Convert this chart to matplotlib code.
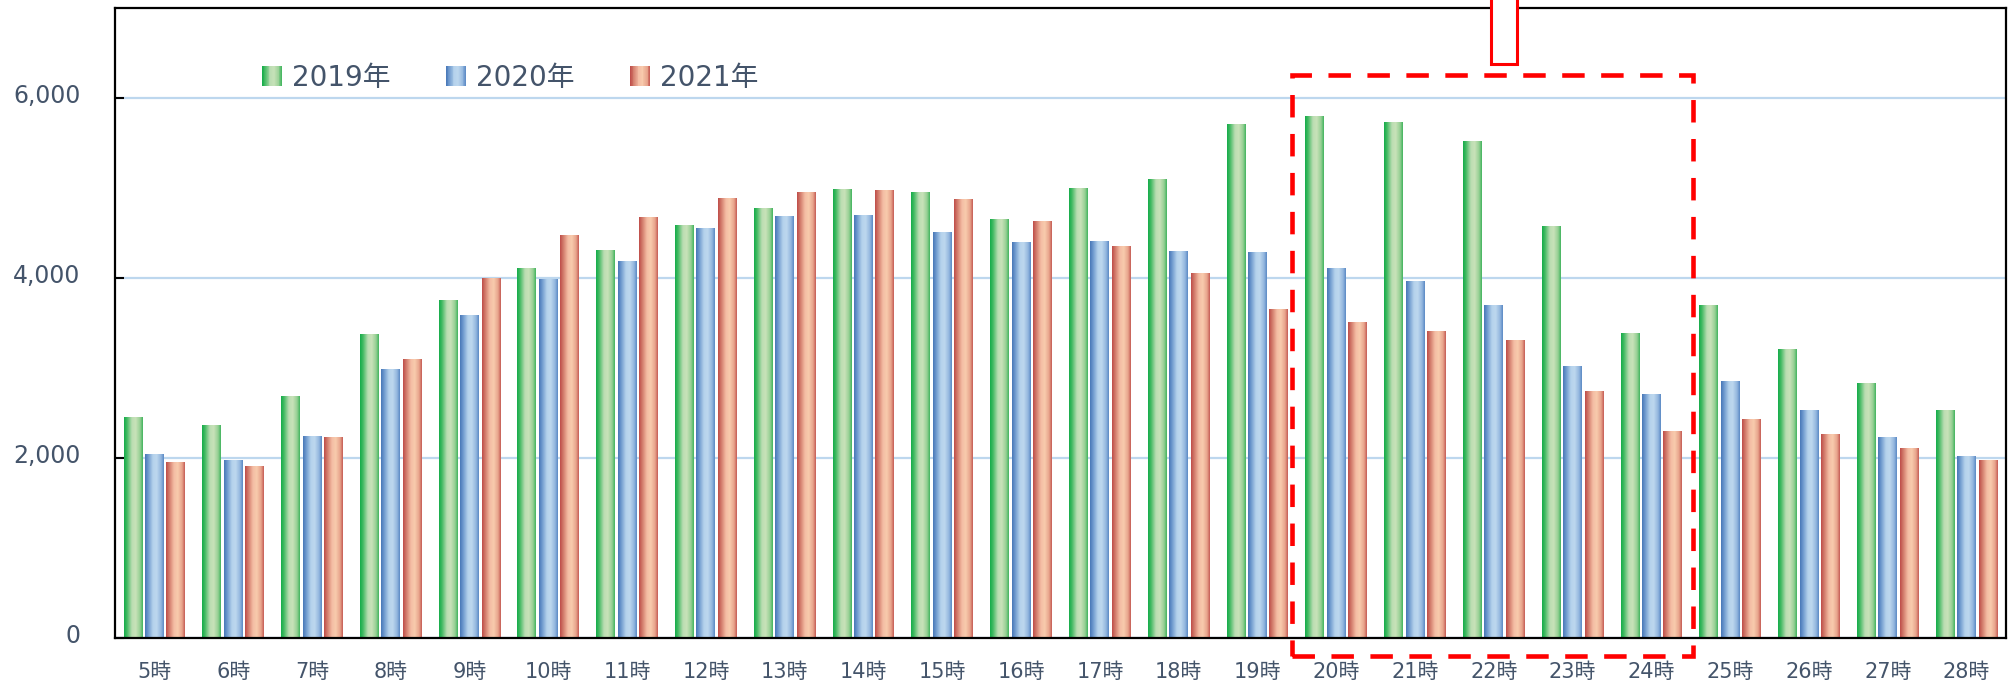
import numpy as np
import matplotlib
matplotlib.use('Agg')
import matplotlib.pyplot as plt
import matplotlib.transforms as mtransforms
from matplotlib.colors import LinearSegmentedColormap
from matplotlib.patches import Rectangle, Patch
from matplotlib.legend_handler import HandlerBase
from matplotlib.ticker import FuncFormatter

plt.rcParams['font.family'] = ['DejaVu Sans', 'Noto Sans CJK JP']

hours = ['5時', '6時', '7時', '8時', '9時', '10時', '11時', '12時', '13時', '14時',
         '15時', '16時', '17時', '18時', '19時', '20時', '21時', '22時', '23時', '24時',
         '25時', '26時', '27時', '28時']
y2019 = [2450, 2363, 2685, 3370, 3752, 4110, 4310, 4583, 4769, 4984,
         4955, 4654, 4998, 5097, 5708, 5797, 5730, 5513, 4568, 3380,
         3697, 3208, 2830, 2530]
y2020 = [2042, 1975, 2240, 2979, 3580, 3981, 4182, 4554, 4683, 4697,
         4511, 4396, 4411, 4297, 4286, 4108, 3963, 3695, 3022, 2707,
         2852, 2530, 2230, 2019]
y2021 = [1952, 1907, 2228, 3093, 3995, 4468, 4668, 4883, 4955, 4969,
         4869, 4625, 4353, 4052, 3652, 3508, 3408, 3308, 2735, 2291,
         2430, 2263, 2108, 1974]
series_names = ['2019年', '2020年', '2021年']

text_col = '#44546A'

# left edge dark, pale centre, a bit darker on the right
cmaps = [
    LinearSegmentedColormap.from_list('g', [(0, '#13AC49'), (0.15, '#40B961'), (0.42, '#BBDDB2'),
                                             (0.62, '#C8E2B9'), (0.85, '#95CF93'), (1, '#3FB45D')]),
    LinearSegmentedColormap.from_list('b', [(0, '#4777B7'), (0.15, '#6A96CC'), (0.42, '#B5D2EC'),
                                             (0.62, '#BDD7EE'), (0.85, '#92B6DE'), (1, '#5A88C4')]),
    LinearSegmentedColormap.from_list('r', [(0, '#BE4B48'), (0.15, '#CF7566'), (0.42, '#F4BDA4'),
                                             (0.62, '#F8CBAD'), (0.85, '#E8A48C'), (1, '#C45A53')]),
]
grad = np.linspace(0, 1, 256).reshape(1, -1)

fig = plt.figure(figsize=(20.1, 6.85), dpi=100)
ax = fig.add_axes([115 / 2010, 47 / 685, 1891 / 2010, 630 / 685])

x = np.arange(len(hours))
step = 0.272
width = 0.24
for k, vals in enumerate([y2019, y2020, y2021]):
    bars = ax.bar(x + (k - 1) * step, vals, width, color='none', edgecolor='none')
    for b in bars:
        x0 = b.get_x()
        ax.imshow(grad, extent=[x0, x0 + b.get_width(), 0, b.get_height()],
                  aspect='auto', cmap=cmaps[k], interpolation='bilinear', zorder=2)

ax.set_xlim(-0.5, len(hours) - 0.5)
ax.set_ylim(0, 7000)
ax.set_aspect('auto')
ax.set_xticks(x)
ax.set_xticklabels(hours)
ax.set_yticks([0, 2000, 4000, 6000])
ax.yaxis.set_major_formatter(FuncFormatter(lambda v, p: f'{int(v):,}'))
ax.tick_params(axis='x', length=0, pad=17, labelsize=15, labelcolor=text_col)
ax.tick_params(axis='y', direction='in', length=6.5, width=1.5, pad=25,
               labelsize=17, labelcolor=text_col)
# y labels sit a little above their gridline
shift = mtransforms.ScaledTranslation(0, 3 / 72, fig.dpi_scale_trans)
for lab in ax.get_yticklabels():
    lab.set_transform(lab.get_transform() + shift)
ax.grid(axis='y', color='#BDD7EE', linewidth=1.6, zorder=1)
ax.set_axisbelow(True)
for s in ax.spines.values():
    s.set_linewidth(1.6)
    s.set_color('black')


class GradHandler(HandlerBase):
    def __init__(self, cmap):
        super().__init__()
        self.cmap = cmap

    def create_artists(self, legend, orig_handle, xdescent, ydescent, width, height, fontsize, trans):
        n = 24
        out = []
        for i in range(n):
            out.append(Rectangle((-xdescent + width * i / n, -ydescent), width / n * 1.05, height,
                                 facecolor=self.cmap((i + 0.5) / n), edgecolor='none', transform=trans))
        return out


handles = [Patch(label=n) for n in series_names]
hmap = {h: GradHandler(c) for h, c in zip(handles, cmaps)}
leg = ax.legend(handles=handles, handler_map=hmap, loc='center left',
                bbox_to_anchor=(0.0777, 0.889), ncol=3, frameon=False,
                fontsize=20, labelcolor=text_col, borderpad=0, borderaxespad=0,
                handlelength=0.72, handleheight=0.72, handletextpad=0.36,
                columnspacing=2.0)

# highlight box around 20時-24時
i0 = hours.index('20時')
i1 = hours.index('24時')
ax.add_patch(Rectangle((i0 - 0.56, -203), (i1 + 0.53) - (i0 - 0.56), 6455,
                       fill=False, edgecolor='#FF0000', linewidth=3.3,
                       linestyle=(0, (4.9, 3.6)), clip_on=False, zorder=5))
# small callout box at the top, cut by the figure edge
i2 = hours.index('22時')
ax.add_patch(Rectangle((i2 - 0.04, 6374), 0.33, 2000, facecolor='white',
                       edgecolor='#FF0000', linewidth=2.2, clip_on=False, zorder=6))

fig.savefig('out.png', dpi=100)
